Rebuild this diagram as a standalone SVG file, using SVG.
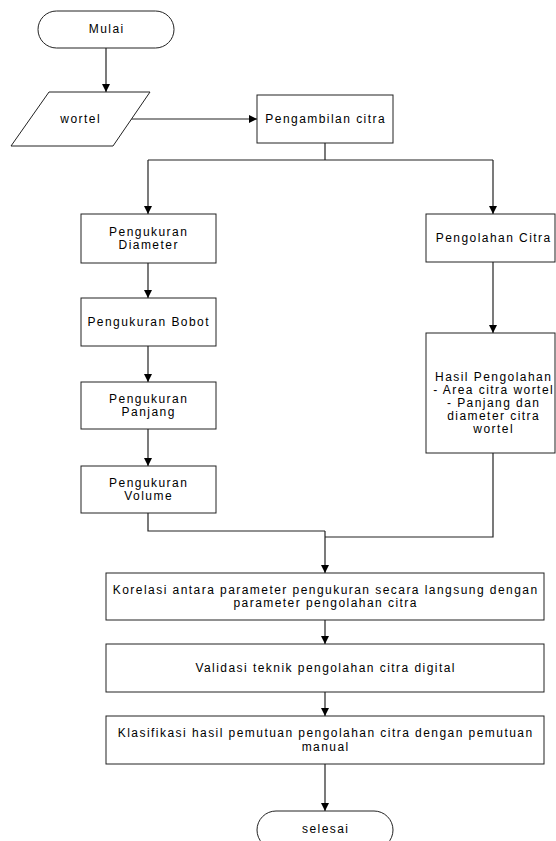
<svg xmlns="http://www.w3.org/2000/svg" width="556" height="841" viewBox="0 0 556 841">
<defs>
<marker id="arr" markerUnits="userSpaceOnUse" markerWidth="9" markerHeight="9" refX="8" refY="4" orient="auto">
<path d="M0,0 L8,4 L0,8 z" fill="#000"/>
</marker>
<style>
.n{fill:#fff;stroke:#222;stroke-width:1}
.t{font-family:"Liberation Sans",Arial,sans-serif;font-size:12px;fill:#000;text-anchor:middle;letter-spacing:1.45px}
.c{fill:none;stroke:#222;stroke-width:1.2}
.a{marker-end:url(#arr)}
</style>
</defs>
<rect width="556" height="841" fill="#fff"/>
<g id="connectors">
<path class="c a" d="M106,48 V92"/>
<path class="c a" d="M131,119 H257"/>
<path class="c" d="M325,143 V160 M148,160 H493"/>
<path class="c a" d="M148,160 V214"/>
<path class="c a" d="M493,160 V214"/>
<path class="c a" d="M148,263 V298"/>
<path class="c a" d="M148,346 V382"/>
<path class="c a" d="M148,429 V466"/>
<path class="c" d="M148,513 V531 H325"/>
<path class="c a" d="M493,262 V333"/>
<path class="c" d="M493,453 V537 H325"/>
<path class="c a" d="M325,531 V573"/>
<path class="c a" d="M325,620 V644"/>
<path class="c a" d="M325,692 V716"/>
<path class="c a" d="M325,764 V811"/>
</g>
<g id="mulai">
<rect class="n" x="38" y="11" width="136" height="37" rx="18.5"/>
<text class="t" x="106.7" y="33">Mulai</text>
</g>
<g id="wortel">
<polygon class="n" points="49,92 150,92 113,146 11,146"/>
<text class="t" x="80.7" y="123">wortel</text>
</g>
<g id="pengambilan">
<rect class="n" x="257" y="95" width="136" height="48"/>
<text class="t" x="325.7" y="123">Pengambilan citra</text>
</g>
<g id="diameter">
<rect class="n" x="81" y="214" width="135" height="49"/>
<text class="t" x="148.7" y="236">Pengukuran</text>
<text class="t" x="148.7" y="249">Diameter</text>
</g>
<g id="bobot">
<rect class="n" x="81" y="298" width="135" height="48"/>
<text class="t" x="148.7" y="326">Pengukuran Bobot</text>
</g>
<g id="panjang">
<rect class="n" x="81" y="382" width="135" height="47"/>
<text class="t" x="148.7" y="403">Pengukuran</text>
<text class="t" x="148.7" y="416">Panjang</text>
</g>
<g id="volume">
<rect class="n" x="81" y="466" width="135" height="47"/>
<text class="t" x="148.7" y="487">Pengukuran</text>
<text class="t" x="148.7" y="500">Volume</text>
</g>
<g id="pengolahan">
<rect class="n" x="426" y="214" width="129" height="48"/>
<text class="t" x="493.7" y="242">Pengolahan Citra</text>
</g>
<g id="hasil">
<rect class="n" x="426" y="333" width="129" height="120"/>
<text class="t" x="493.7" y="381">Hasil Pengolahan</text>
<text class="t" x="493.7" y="394">- Area citra wortel</text>
<text class="t" x="493.7" y="407">- Panjang dan</text>
<text class="t" x="493.7" y="420">diameter citra</text>
<text class="t" x="493.7" y="433">wortel</text>
</g>
<g id="korelasi">
<rect class="n" x="106" y="573" width="438" height="47"/>
<text class="t" x="325.7" y="594">Korelasi antara parameter pengukuran secara langsung dengan</text>
<text class="t" x="325.7" y="607">parameter pengolahan citra</text>
</g>
<g id="validasi">
<rect class="n" x="106" y="644" width="438" height="48"/>
<text class="t" x="325.7" y="672">Validasi teknik pengolahan citra digital</text>
</g>
<g id="klasifikasi">
<rect class="n" x="106" y="716" width="438" height="48"/>
<text class="t" x="325.7" y="737">Klasifikasi hasil pemutuan pengolahan citra dengan pemutuan</text>
<text class="t" x="325.7" y="751">manual</text>
</g>
<g id="selesai">
<rect class="n" x="257" y="811" width="136" height="38" rx="19"/>
<text class="t" x="325.7" y="833">selesai</text>
</g>
</svg>
